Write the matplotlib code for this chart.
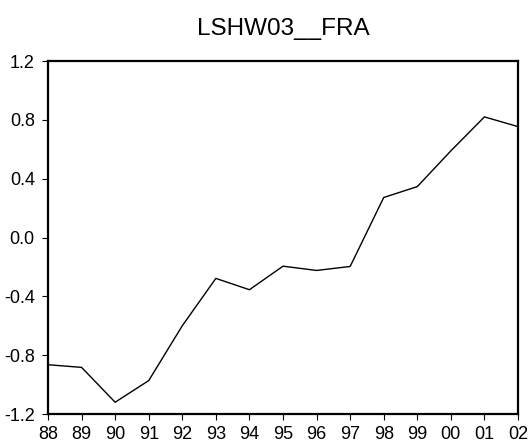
import matplotlib
matplotlib.use("Agg")
import matplotlib.pyplot as plt

years = ["88", "89", "90", "91", "92", "93", "94", "95", "96", "97", "98", "99", "00", "01", "02"]
values = [-0.865, -0.883, -1.12, -0.973, -0.60, -0.278, -0.355, -0.195, -0.224, -0.197,
          0.272, 0.346, 0.589, 0.820, 0.754]
yticks = [-1.2, -0.8, -0.4, 0.0, 0.4, 0.8, 1.2]
title = "LSHW03__FRA"

plt.rcParams['font.family'] = ['Liberation Sans', 'DejaVu Sans']
fig = plt.figure(figsize=(5.29, 4.48), dpi=100)
ax = fig.add_axes([48/529, 1 - 414/448, (518-48)/529, (414-61)/448])
x = list(range(len(years)))
ax.plot(x, values, color='black', linewidth=1.0)
ax.set_xlim(0, len(years) - 1)
ax.set_ylim(-1.2, 1.2)
ax.set_xticks(x)
ax.set_xticklabels(years)
ax.set_yticks(yticks)
ax.set_yticklabels([f"{v:.1f}" for v in yticks])
for s in ax.spines.values():
    s.set_linewidth(1.6)
ax.tick_params(direction='out', length=4.5, width=0.8, labelsize=13)
ax.tick_params(axis='y', pad=5)
ax.tick_params(axis='x', pad=4)
ax.set_title(title, fontsize=17.5, pad=19)
fig.savefig("out.png", dpi=100)
